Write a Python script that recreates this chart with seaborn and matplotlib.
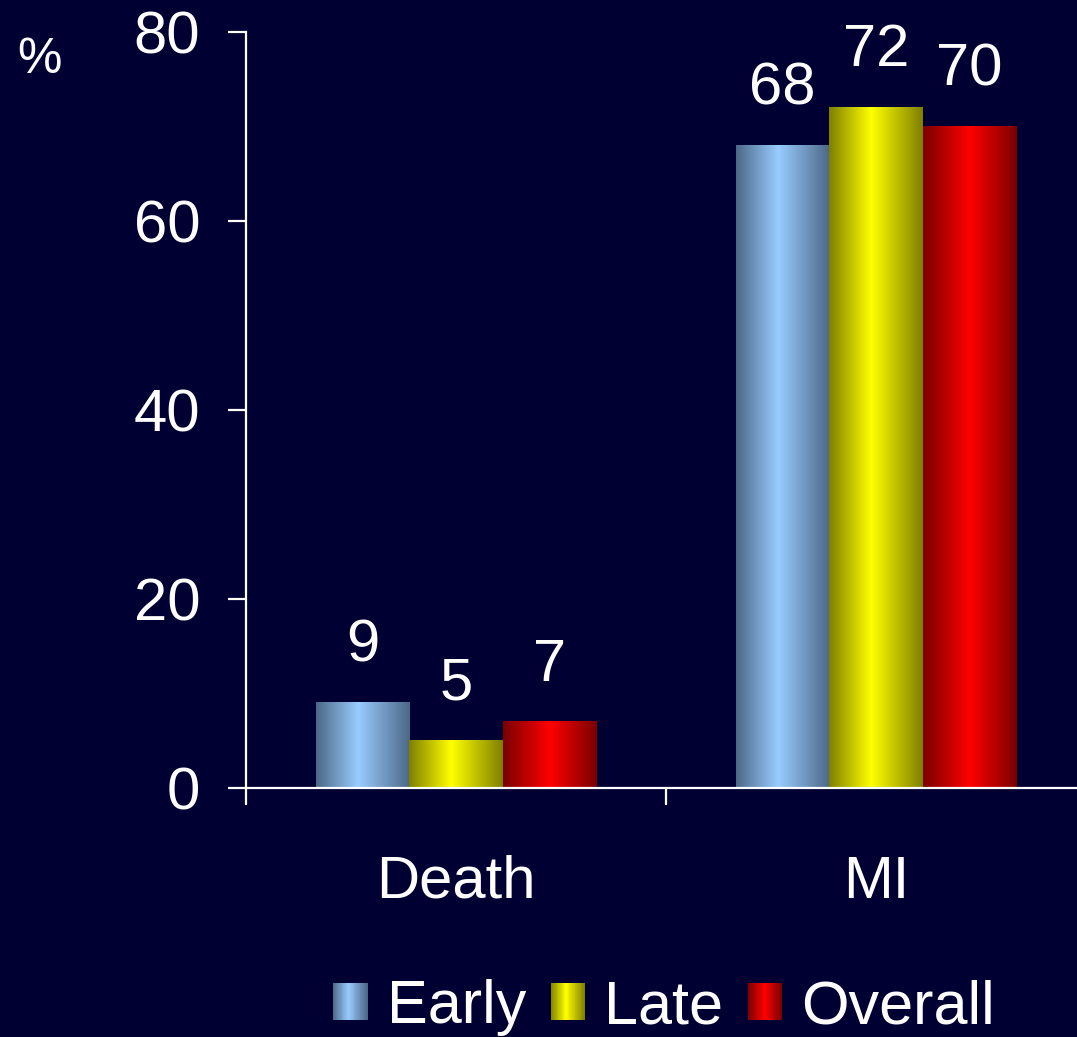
import numpy as np
import pandas as pd
import matplotlib
matplotlib.use("Agg")
import matplotlib.pyplot as plt
from matplotlib.colors import LinearSegmentedColormap
from matplotlib.patches import Rectangle
from matplotlib.legend_handler import HandlerBase
import seaborn as sns

# ---- data ----
categories = ["Death", "MI"]
groups = ["Early", "Late", "Overall"]
early = [9, 68]
late = [5, 72]
overall = [7, 70]

# gradient colours per group: (edge, highlight)
edge_colors = {"Early": "#4c6887", "Late": "#7f7f00", "Overall": "#7a0000"}
peak_colors = {"Early": "#99ccff", "Late": "#ffff00", "Overall": "#ff0000"}
peak_pos = {"Early": 0.45, "Late": 0.45, "Overall": 0.5}

BG = "#000033"

df = pd.DataFrame({
    "category": np.repeat(categories, len(groups)),
    "group": groups * len(categories),
    "value": [v for pair in zip(early, late, overall) for v in pair],
})

sns.set_theme(style="white")
plt.rcParams["font.family"] = ["Liberation Sans", "DejaVu Sans"]

W, H = 1077, 1037
fig = plt.figure(figsize=(W / 100, H / 100), dpi=100, facecolor=BG)
ax = fig.add_axes([246 / W, (H - 788) / H, 840 / W, (788 - 32) / H])
ax.set_facecolor(BG)

cmaps = {
    g: LinearSegmentedColormap.from_list(
        g, [(0.0, edge_colors[g]), (peak_pos[g], peak_colors[g]), (1.0, edge_colors[g])]
    )
    for g in groups
}

sns.barplot(data=df, x="category", y="value", hue="group", hue_order=groups,
            palette=[peak_colors[g] for g in groups], width=0.667, saturation=1,
            linewidth=0, legend=False, ax=ax)

ramp = np.linspace(0, 1, 256).reshape(1, -1)
for g, cont in zip(groups, ax.containers):
    for bar in cont:
        x0, w, h = bar.get_x(), bar.get_width(), bar.get_height()
        bar.set_alpha(0)
        ax.imshow(ramp, cmap=cmaps[g], aspect="auto", interpolation="bilinear",
                  extent=(x0, x0 + w, 0, h), zorder=2)
    ax.bar_label(cont, labels=[f"{v:g}" for v in cont.datavalues], padding=21,
                 fontsize=43, color="white")

ax.set_xlim(-0.5, 1.5)
ax.set_ylim(0, 80)
ax.set_yticks([0, 20, 40, 60, 80])
ax.set_xticks([-0.5, 0.5, 1.5])
ax.set_xticklabels([])
ax.set_xticks([0, 1], minor=True)
ax.set_xticklabels(categories, minor=True)
ax.set_xlabel("")
ax.set_ylabel("")

for side in ("top", "right"):
    ax.spines[side].set_visible(False)
for side in ("left", "bottom"):
    ax.spines[side].set_color("white")
    ax.spines[side].set_linewidth(1.6)

ax.tick_params(axis="y", which="major", direction="out", length=13, width=1.6,
               color="white", labelcolor="white", labelsize=43, pad=20, left=True)
ax.tick_params(axis="x", which="major", direction="out", length=12, width=1.6,
               color="white", bottom=True)
ax.tick_params(axis="x", which="minor", length=0, labelcolor="white",
               labelsize=43, pad=48)

fig.text(17 / W, 1 - 60 / H, "%", color="white", fontsize=36, ha="left", va="center")


class GradientHandler(HandlerBase):
    def __init__(self, cmap):
        super().__init__()
        self.cmap = cmap

    def create_artists(self, legend, orig_handle, xdescent, ydescent, width,
                       height, fontsize, trans):
        n = 40
        arts = []
        for i in range(n):
            r = Rectangle((-xdescent + width * i / n, -ydescent), width / n + 0.3,
                          height, facecolor=self.cmap((i + 0.5) / n),
                          edgecolor="none", transform=trans)
            arts.append(r)
        return arts


handles = [Rectangle((0, 0), 1, 1) for _ in groups]
leg = fig.legend(handles, groups, loc="lower left",
                 bbox_to_anchor=(333 / W, 1 - 1036 / H), ncol=3, frameon=False,
                 fontsize=44, labelcolor="white", handlelength=0.56,
                 handleheight=0.56, handletextpad=0.32, columnspacing=0.4,
                 borderpad=0, borderaxespad=0,
                 handler_map={h: GradientHandler(cmaps[g]) for h, g in zip(handles, groups)})

fig.savefig("out.png", dpi=100, facecolor=BG)
